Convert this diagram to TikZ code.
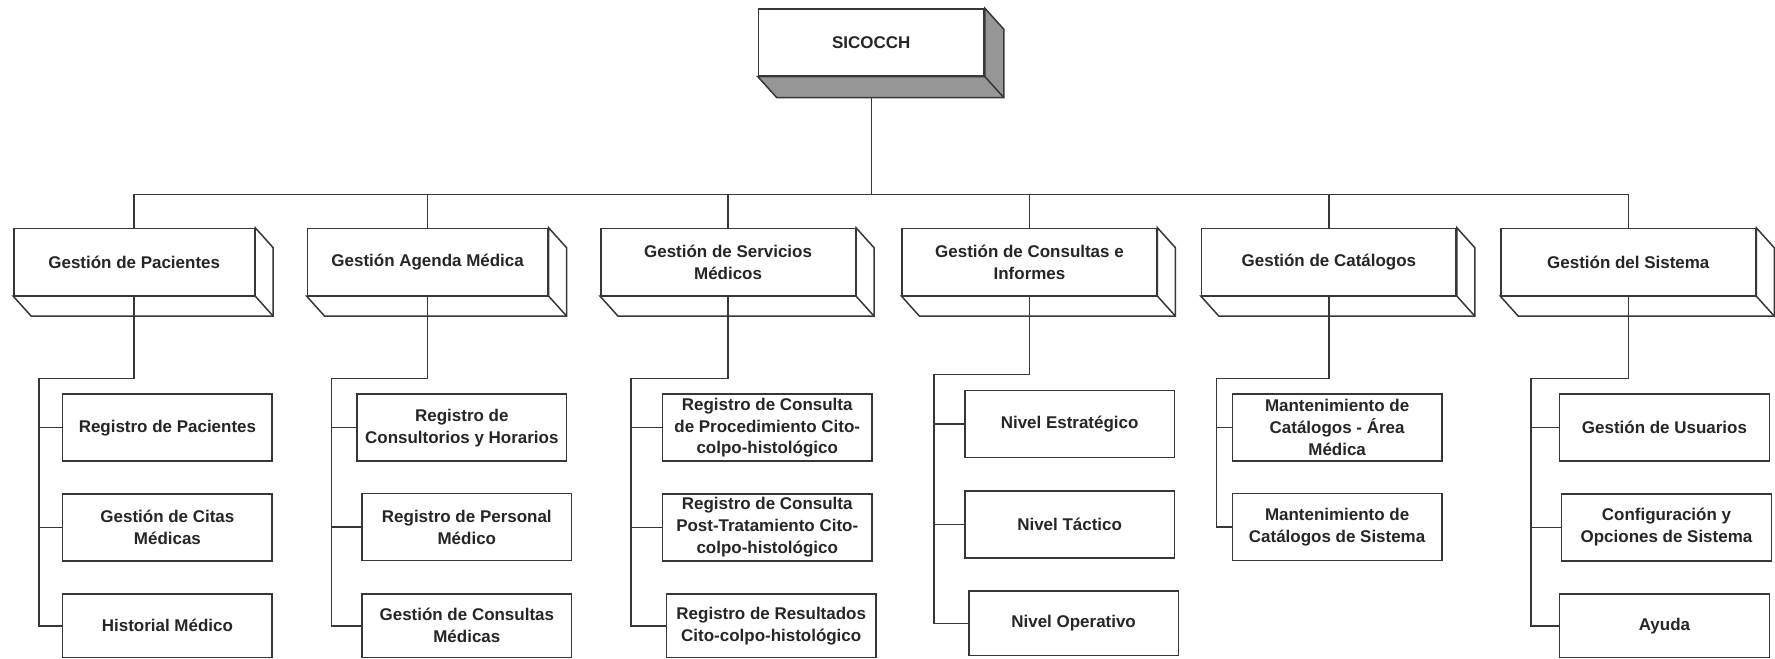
\documentclass[tikz,border=0pt]{standalone}
\usepackage{fontspec}
\setmainfont{Liberation Sans}
\definecolor{sidegray}{RGB}{150,150,150}
\definecolor{linegray}{RGB}{55,55,55}

\begin{document}
\begin{tikzpicture}[x=1pt, y=-1pt, line width=1.5pt, draw=linegray,
	every node/.style={font=\fontsize{17}{22}\selectfont\bfseries, text=black!85, align=center, inner sep=0pt},
	mainbox/.style={draw=linegray, fill=white, minimum width=226pt, minimum height=67pt},
	modbox/.style={draw=linegray, fill=white, minimum width=255pt, minimum height=67pt},
	leafbox/.style={draw=linegray, fill=white, anchor=west, minimum width=210pt, minimum height=67pt}]
	\fill[white] (0,0) rectangle (1775,660);

	\node at (873,42.5) [mainbox] (sicocch) {SICOCCH};
	\draw[fill=sidegray] (sicocch.north east) -- ++(19,21) -- ([shift={(19,21)}]sicocch.south east) -- ([shift={(19,21)}]sicocch.south west) -- (sicocch.south west) -- (sicocch.south east) -- cycle;
	\draw (sicocch.south east) -- ++(19,21);

	\node at (134.5,262.5) [modbox, minimum width=241pt] (pacientes) {Gestión de Pacientes};
	\node at (428.5,262.5) [modbox, minimum width=241pt] (agenda) {Gestión Agenda Médica};
	\node at (729.5,262.5) [modbox] (servicios) {Gestión de Servicios\\Médicos};
	\node at (1031.5,262.5) [modbox] (consultas) {Gestión de Consultas e\\Informes};
	\node at (1331.5,262.5) [modbox] (catalogos) {Gestión de Catálogos};
	\node at (1631.5,262.5) [modbox] (sistema) {Gestión del Sistema};

	\foreach \b in {pacientes, agenda, servicios, consultas, catalogos, sistema} {
		\draw[fill=white] (\b.north east) -- ++(18,20) -- ([shift={(18,20)}]\b.south east) -- ([shift={(18,20)}]\b.south west) -- (\b.south west) -- (\b.south east) -- cycle;
		\draw (\b.south east) -- ++(18,20);
	}

	\node at (62,428.5) [leafbox] (regpac) {Registro de Pacientes};
	\node at (62,528.5) [leafbox] (citas) {Gestión de Citas\\Médicas};
	\node at (62,627) [leafbox, minimum height=64pt] (historial) {Historial Médico};

	\node at (357,428.5) [leafbox] (consultorios) {Registro de\\Consultorios y Horarios};
	\node at (362,528) [leafbox] (personal) {Registro de Personal\\Médico};
	\node at (362,627) [leafbox, minimum height=64pt] (consmed) {Gestión de Consultas\\Médicas};

	\node at (663,428.5) [leafbox] (procedimiento) {Registro de Consulta\\de Procedimiento Cito-\\colpo-histológico};
	\node at (663,528.5) [leafbox] (posttrat) {Registro de Consulta\\Post-Tratamiento Cito-\\colpo-histológico};
	\node at (667,627) [leafbox, minimum height=64pt] (resultados) {Registro de Resultados\\Cito-colpo-histológico};

	\node at (966,425) [leafbox] (estrategico) {Nivel Estratégico};
	\node at (966,525.5) [leafbox] (tactico) {Nivel Táctico};
	\node at (970,624.5) [leafbox, minimum height=65pt] (operativo) {Nivel Operativo};

	\node at (1234,428.5) [leafbox] (mantarea) {Mantenimiento de\\Catálogos - Área\\Médica};
	\node at (1234,528) [leafbox] (mantsis) {Mantenimiento de\\Catálogos de Sistema};

	\node at (1562,428.5) [leafbox] (usuarios) {Gestión de Usuarios};
	\node at (1564,528.5) [leafbox] (config) {Configuración y\\Opciones de Sistema};
	\node at (1562,627) [leafbox, minimum height=64pt] (ayuda) {Ayuda};

	\coordinate (bus) at (873,195);
	\draw (sicocch.south) ++(0,21) -- (bus);
	\foreach \b in {pacientes, agenda, servicios, consultas, catalogos, sistema}
		\draw (bus) -| (\b.north);

	\coordinate (s1) at (39,379);
	\draw (pacientes.south) |- (s1) |- (regpac.west);
	\draw (s1) |- (citas.west);
	\draw (s1) |- (historial.west);

	\coordinate (s2) at (332,379);
	\draw (agenda.south) |- (s2) |- (consultorios.west);
	\draw (s2) |- (personal.west);
	\draw (s2) |- (consmed.west);

	\coordinate (s3) at (632,379);
	\draw (servicios.south) |- (s3) |- (procedimiento.west);
	\draw (s3) |- (posttrat.west);
	\draw (s3) |- (resultados.west);

	\coordinate (s4) at (936,375);
	\draw (consultas.south) |- (s4) |- (estrategico.west);
	\draw (s4) |- (tactico.west);
	\draw (s4) |- (operativo.west);

	\coordinate (s5) at (1219,379);
	\draw (catalogos.south) |- (s5) |- (mantarea.west);
	\draw (s5) |- (mantsis.west);

	\coordinate (s6) at (1534,379);
	\draw (sistema.south) |- (s6) |- (usuarios.west);
	\draw (s6) |- (config.west);
	\draw (s6) |- (ayuda.west);
\end{tikzpicture}
\end{document}
